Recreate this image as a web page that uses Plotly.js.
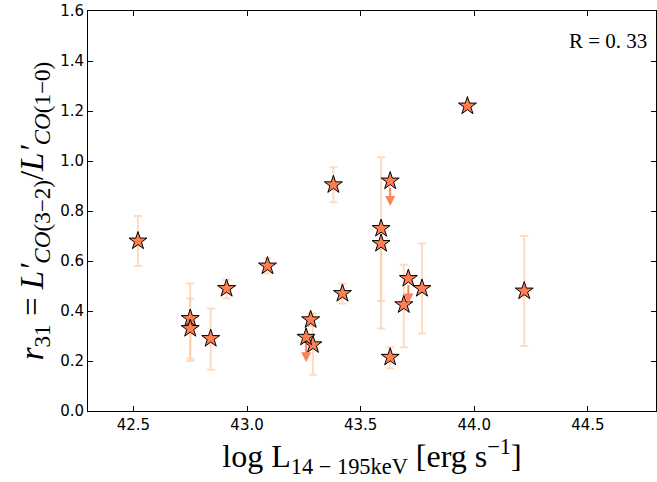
<!DOCTYPE html>
<html><head><meta charset="utf-8">
<script src="https://cdn.plot.ly/plotly-3.0.1.min.js"></script>
<style>html,body{margin:0;padding:0;background:#fff}</style>
</head><body>
<div id="chart" style="width:657px;height:482px"></div>
<script>
// Detections
var logL   = [42.52, 42.75, 42.75, 42.84, 42.91, 43.09, 43.28, 43.29, 43.38, 43.42, 43.59, 43.59, 43.63, 43.69, 43.77, 43.97, 44.22];
var r31    = [0.68, 0.37, 0.33, 0.29, 0.49, 0.58, 0.365, 0.265, 0.905, 0.47, 0.73, 0.67, 0.215, 0.425, 0.49, 1.22, 0.48];
var errUp  = [0.10, 0.14, 0.12, 0.12, 0.035, 0.03, 0.025, 0.125, 0.07, 0.04, 0.285, 0.06, 0.04, 0.16, 0.18, 0, 0.22];
var errDn  = [0.10, 0.16, 0.13, 0.125, 0.04, 0.03, 0.025, 0.12, 0.07, 0.04, 0.29, 0.34, 0.045, 0.17, 0.18, 0, 0.22];
// Upper limits
var limLogL = [43.26, 43.63, 43.71];
var limR31  = [0.295, 0.92, 0.53];
var arrowLen = 0.1;
var rText = "R = 0. 33";

var traces = [{
  x: logL, y: r31, type: 'scatter', mode: 'markers',
  marker: {symbol: 'star', size: 13.5, color: '#ff7f50', line: {color: '#000', width: 1}},
  error_y: {type: 'data', symmetric: false, array: errUp, arrayminus: errDn,
            color: 'rgba(255,200,160,0.65)', thickness: 2, width: 4},
  showlegend: false, hoverinfo: 'x+y'
}, {
  x: limLogL, y: limR31, type: 'scatter', mode: 'markers',
  marker: {symbol: 'star', size: 13.5, color: '#ff7f50', line: {color: '#000', width: 1}},
  showlegend: false
}];

var annotations = limLogL.map(function(xv, i){
  return {x: xv, y: limR31[i] - arrowLen, ax: xv, ay: limR31[i] - 0.02,
          xref: 'x', yref: 'y', axref: 'x', ayref: 'y',
          showarrow: true, arrowhead: 2, arrowsize: 1, arrowwidth: 2,
          arrowcolor: '#f9845a', text: '', standoff: 0, startstandoff: 0};
});
annotations.push({xref: 'paper', yref: 'paper', x: 0.988, y: 0.925, xanchor: 'right', yanchor: 'middle',
  text: rText, showarrow: false, font: {family: 'Liberation Serif', size: 21, color: '#000'}});

var layout = {
  width: 657, height: 482,
  margin: {l: 88, r: 1, t: 11, b: 71},
  paper_bgcolor: '#fff', plot_bgcolor: '#fff',
  xaxis: {range: [42.3, 44.8], tickvals: [42.5, 43.0, 43.5, 44.0, 44.5],
          ticktext: ['42.5', '43.0', '43.5', '44.0', '44.5'],
          ticks: 'inside', ticklen: 5, tickcolor: '#000', showgrid: false, zeroline: false,
          showline: true, linecolor: '#000', linewidth: 1, mirror: 'ticks',
          tickfont: {family: 'DejaVu Sans', size: 15, color: '#000'},
          title: {text: 'log L<sub>14 − 195keV</sub> [erg s<sup>−1</sup>]', standoff: 6,
                  font: {family: 'Liberation Serif', size: 32, color: '#000'}}},
  yaxis: {range: [0, 1.6], tickvals: [0, 0.2, 0.4, 0.6, 0.8, 1.0, 1.2, 1.4, 1.6],
          ticktext: ['0.0', '0.2', '0.4', '0.6', '0.8', '1.0', '1.2', '1.4', '1.6'],
          ticks: 'inside', ticklen: 5, tickcolor: '#000', showgrid: false, zeroline: false,
          showline: true, linecolor: '#000', linewidth: 1, mirror: 'ticks',
          tickfont: {family: 'DejaVu Sans', size: 15, color: '#000'},
          title: {text: '<i>r</i><sub>31</sub> = <i>L′</i><sub><i>CO</i>(3−2)</sub>/<i>L′</i><sub><i>CO</i>(1−0)</sub>', standoff: 6,
                  font: {family: 'Liberation Serif', size: 33, color: '#000'}}},
  annotations: annotations
};
Plotly.newPlot('chart', traces, layout, {displayModeBar: false, staticPlot: true});
</script>
</body></html>
